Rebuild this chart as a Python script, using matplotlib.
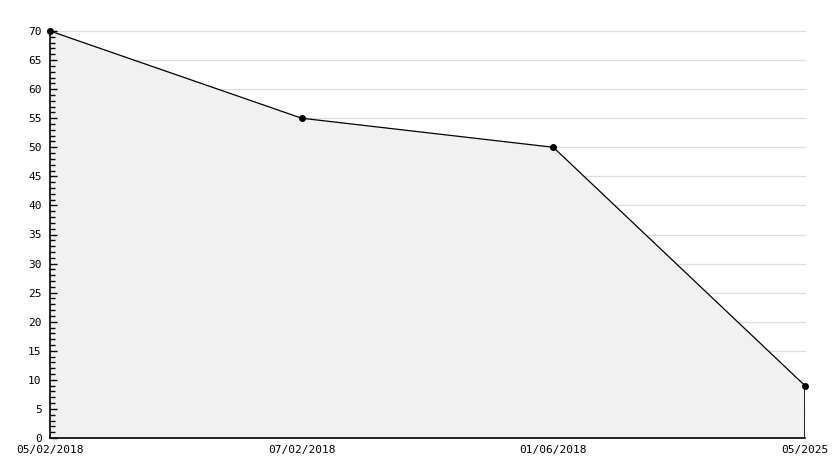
import matplotlib
matplotlib.use("Agg")
import matplotlib.pyplot as plt
from matplotlib.ticker import MultipleLocator

categories = ["05/02/2018", "07/02/2018", "01/06/2018", "05/2025"]
values = [70, 55, 50, 9]

fig = plt.figure(figsize=(8.34, 4.68), dpi=100)
ax = fig.add_axes([50/834, 30/468, 755/834, 407/468])
x = list(range(len(categories)))
for yv in range(5, 75, 5):
    ax.axhline(yv, color="#dddddd", linewidth=0.9, zorder=0, clip_on=False)
ax.fill_between(x, values, 0, color="#f1f1f1", zorder=1, linewidth=0)
ax.plot(x, values, color="black", linewidth=0.9, zorder=3)
ax.plot(x, values, linestyle="none", marker="o", markersize=4, color="black", zorder=4, clip_on=False)
ax.plot([x[-1], x[-1]], [0, values[-1]], color="black", linewidth=1.2, zorder=3)

ax.set_xlim(0, len(categories) - 1)
ax.set_ylim(0, 70)
ax.set_xticks(x)
ax.set_xticklabels(categories)
ax.yaxis.set_major_locator(MultipleLocator(5))
ax.yaxis.set_minor_locator(MultipleLocator(1))
for s in ["top", "right"]:
    ax.spines[s].set_visible(False)
ax.spines["left"].set_linewidth(1.2)
ax.spines["bottom"].set_linewidth(1.2)
ax.tick_params(axis="y", which="major", direction="in", length=5, width=1, labelsize=8, pad=6)
ax.tick_params(axis="y", which="minor", direction="in", length=3.5, width=1)
ax.tick_params(axis="x", which="major", length=0, labelsize=8, pad=5)
for lab in ax.get_xticklabels() + ax.get_yticklabels():
    lab.set_family("DejaVu Sans Mono")
fig.savefig("out.png", dpi=100, facecolor="white")
